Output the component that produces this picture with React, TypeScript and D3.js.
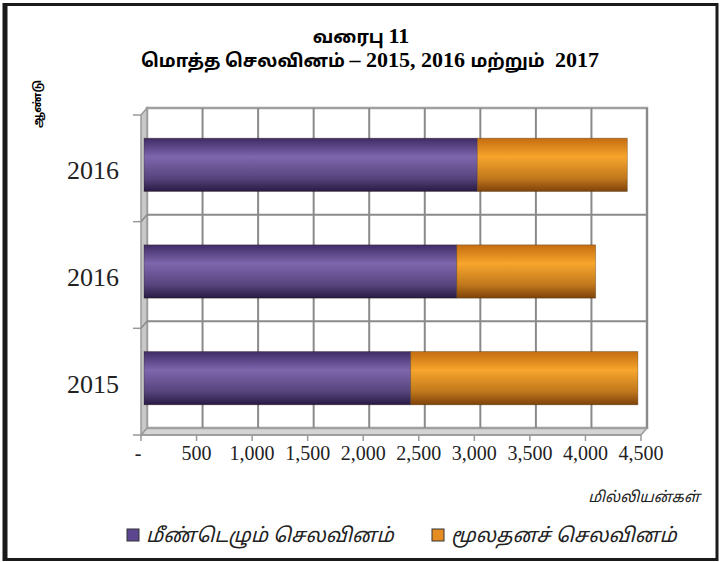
import React, { useRef, useEffect } from 'react';
import * as d3 from 'd3';

// data, bottom bar first (labels as printed on the chart)
const years = ['2015', '2016', '2016'];
const recurrent = [2400, 2815, 3000];
const capital = [2045, 1250, 1350];
const xTicks = [0, 500, 1000, 1500, 2000, 2500, 3000, 3500, 4000, 4500];
const seriesNames = ['மீண்டெழும் செலவினம்', 'மூலதனச் செலவினம்'];
const seriesColors = ['#5d4690', '#e58c22'];
// title pieces: [text, isNumber]
const titleLine1: [string, boolean][] = [['வரைபு ', false], ['11', true]];
const titleLine2: [string, boolean][] = [
  ['மொத்த செலவினம் ', false], ['– 2015, 2016 ', true], ['மற்றும் ', false], [' 2017', true],
];
const yTitle = 'ஆண்டு';
const unitLabel = 'மில்லியன்கள்';

const W = 722;
const H = 562;
const tamil = "'Noto Sans Tamil', Latha, 'Lohit Tamil', 'Noto Sans', sans-serif";
const serif = "'Liberation Serif', 'Times New Roman', serif";

const App = () => {
  const ref = useRef<SVGSVGElement>(null);

  useEffect(() => {
    const svg = d3.select(ref.current);
    svg.selectAll('*').remove();

    // 3d depth offset of the back wall
    const dx = 6, dy = -7;

    const x = d3.scaleLinear().domain([0, 4500]).range([141, 641]);
    const idx = years.map((_, i) => String(i));
    const y = d3.scaleBand().domain(idx).range([435, 115]).paddingInner(0.5).paddingOuter(0.25);
    const step = y.step();

    const rows = years.map((yr, i) => ({ key: String(i), year: yr, a: recurrent[i], b: capital[i] }));
    const stacked = d3.stack<any>().keys(['a', 'b'])(rows);

    const defs = svg.append('defs');
    const grads = [
      ['gPurple', '#3f2c66', '#7f66ad', '#271a42'],
      ['gOrange', '#c46c10', '#f7a52c', '#7e420a'],
    ];
    grads.forEach(([id, c0, c1, c2]) => {
      const g = defs.append('linearGradient').attr('id', id).attr('x1', 0).attr('y1', 0).attr('x2', 0).attr('y2', 1);
      g.append('stop').attr('offset', '0%').attr('stop-color', c0);
      g.append('stop').attr('offset', '35%').attr('stop-color', c1);
      g.append('stop').attr('offset', '75%').attr('stop-color', d3.interpolateRgb(c1, c2)(0.45));
      g.append('stop').attr('offset', '100%').attr('stop-color', c2);
    });

    // outer frame
    svg.append('rect').attr('x', 5).attr('y', 4.5).attr('width', 712).attr('height', 555)
      .attr('fill', 'white').attr('stroke', '#1a1a1a').attr('stroke-width', 3);
    svg.append('line').attr('x1', 5).attr('x2', 5).attr('y1', 3).attr('y2', 561)
      .attr('stroke', '#1a1a1a').attr('stroke-width', 5);

    // titles, tamil words in sans and numbers in bold serif
    const titleRow = (parts: [string, boolean][], cx: number, by: number) => {
      const t = svg.append('text').attr('x', cx).attr('y', by).attr('text-anchor', 'middle')
        .attr('font-weight', 'bold').attr('xml:space', 'preserve').style('white-space', 'pre');
      parts.forEach(([s, num]) => {
        t.append('tspan').attr('font-family', num ? serif : tamil)
          .attr('font-size', num ? 22 : 18).text(s);
      });
    };
    titleRow(titleLine1, 361, 43);
    titleRow(titleLine2, 370, 67);

    const top = 115, bottom = 435;
    const x0 = x(0), x1 = x(4500);

    // floor
    svg.append('polygon')
      .attr('points', `${x0},${bottom} ${x1},${bottom} ${x1 + dx},${bottom + dy} ${x0 + dx},${bottom + dy}`)
      .attr('fill', '#d4d4d4').attr('stroke', '#9a9a9a').attr('stroke-width', 1.5);
    // back wall
    svg.append('rect').attr('x', x0 + dx).attr('y', top + dy)
      .attr('width', x1 - x0).attr('height', bottom - top)
      .attr('fill', 'white').attr('stroke', '#a0a0a0').attr('stroke-width', 2.5);
    // left wall
    svg.append('polygon')
      .attr('points', `${x0},${top} ${x0 + dx},${top + dy} ${x0 + dx},${bottom + dy} ${x0},${bottom}`)
      .attr('fill', '#c8c8c8').attr('stroke', '#9a9a9a').attr('stroke-width', 1.5);

    // vertical grid on the back wall
    svg.append('g').selectAll('line').data(xTicks.slice(1)).join('line')
      .attr('x1', d => x(d) + dx).attr('x2', d => x(d) + dx)
      .attr('y1', top + dy).attr('y2', bottom + dy)
      .attr('stroke', '#8a8a8a').attr('stroke-width', 2);

    // horizontal grid at category boundaries
    const bounds = d3.range(idx.length + 1).map(i => bottom - i * step);
    svg.append('g').selectAll('line').data(bounds.slice(1, -1)).join('line')
      .attr('x1', x0 + dx).attr('x2', x1 + dx)
      .attr('y1', d => d + dy).attr('y2', d => d + dy)
      .attr('stroke', '#8a8a8a').attr('stroke-width', 2);
    svg.append('g').selectAll('line').data(bounds.slice(1, -1)).join('line')
      .attr('x1', x0).attr('x2', x0 + dx)
      .attr('y1', d => d).attr('y2', d => d + dy)
      .attr('stroke', '#8a8a8a').attr('stroke-width', 1.5);

    // bars at mid depth
    const mx = dx / 2, my = dy / 2;
    const layer = svg.append('g').selectAll('g').data(stacked).join('g')
      .attr('fill', (_, i) => (i === 0 ? 'url(#gPurple)' : 'url(#gOrange)'));
    layer.selectAll('rect').data(d => d as any[]).join('rect')
      .attr('x', (d: any) => x(d[0]) + mx)
      .attr('width', (d: any) => x(d[1]) - x(d[0]))
      .attr('y', (d: any) => (y(d.data.key) as number) + my)
      .attr('height', y.bandwidth())
      .attr('stroke', 'rgba(40,25,10,0.35)')
      .attr('stroke-width', 0.8);

    // front axes
    svg.append('line').attr('x1', x0).attr('x2', x1).attr('y1', bottom).attr('y2', bottom)
      .attr('stroke', '#9a9a9a').attr('stroke-width', 1.5);
    svg.append('g').selectAll('line').data(xTicks).join('line')
      .attr('x1', d => x(d)).attr('x2', d => x(d)).attr('y1', bottom).attr('y2', bottom + 6)
      .attr('stroke', '#9a9a9a').attr('stroke-width', 1.5);
    svg.append('g').selectAll('line').data(bounds).join('line')
      .attr('x1', x0 - 8).attr('x2', x0).attr('y1', d => d).attr('y2', d => d)
      .attr('stroke', '#9a9a9a').attr('stroke-width', 1.5);

    const fmt = d3.format(',');
    svg.append('g').selectAll('text').data(xTicks).join('text')
      .attr('x', d => x(d) + (d === 0 ? -3 : 0)).attr('y', 460).attr('text-anchor', 'middle')
      .attr('font-family', serif).attr('font-size', 20).attr('fill', '#222')
      .text(d => (d === 0 ? '-' : fmt(d)));

    svg.append('g').selectAll('text').data(rows).join('text')
      .attr('x', 119).attr('y', d => (y(d.key) as number) + y.bandwidth() / 2 + 2)
      .attr('dy', '0.35em').attr('text-anchor', 'end')
      .attr('font-family', serif).attr('font-size', 26).attr('fill', '#222')
      .text(d => d.year);

    svg.append('text').attr('transform', 'translate(41,104) rotate(-90)')
      .attr('text-anchor', 'middle').attr('font-family', tamil).attr('font-weight', 'bold')
      .attr('font-size', 11).text(yTitle);

    svg.append('text').attr('x', 700).attr('y', 502).attr('text-anchor', 'end')
      .attr('font-family', tamil).attr('font-style', 'italic').attr('font-size', 15)
      .attr('fill', '#222').text(unitLabel);

    // legend
    const legendX = [127, 432];
    const lg = svg.append('g').selectAll('g').data(seriesNames).join('g')
      .attr('transform', (_, i) => `translate(${legendX[i]},529)`);
    lg.append('rect').attr('width', 12).attr('height', 12)
      .attr('fill', (_, i) => seriesColors[i]).attr('stroke', '#333').attr('stroke-width', 1);
    lg.append('text').attr('x', 19).attr('y', 6).attr('dy', '0.35em')
      .attr('font-family', tamil).attr('font-style', 'italic').attr('font-size', 20)
      .attr('fill', '#222').text(d => d);
  }, []);

  return (
    <svg ref={ref} width={W} height={H}
      style={{ position: 'absolute', left: 0, top: 0, background: 'white' }} />
  );
};

export default App;
